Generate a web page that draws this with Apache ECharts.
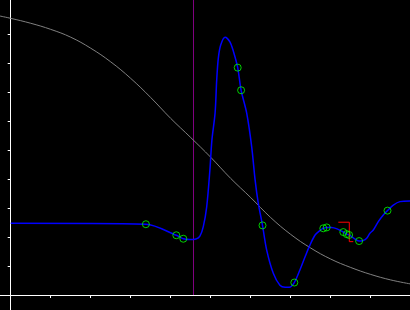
<!DOCTYPE html>
<html>
<head>
<meta charset="utf-8">
<script src="https://cdn.jsdelivr.net/npm/echarts@6/dist/echarts.min.js"></script>
<style>html,body{margin:0;padding:0;background:#000;}#c{width:410px;height:310px;}</style>
</head>
<body>
<div id="c"></div>
<script>
// Grey reference curve
var greyX = [-0.27,0,0.5,1,1.5,2,2.5,3,3.5,4,4.5,5,5.5,6,6.5,7,7.5,8,8.5,9,9.5,10];
var greyY = [9.62,9.54,9.37,9.16,8.89,8.51,8.04,7.47,6.81,6.09,5.43,4.75,4.02,3.36,2.67,2.09,1.62,1.24,0.95,0.71,0.52,0.38];
// Blue interpolated curve
var blueX = [0,3.38,4.14,4.315,4.48,4.63,4.73,4.815,4.90,4.98,5.03,5.11,5.15,5.19,5.25,5.36,5.48,5.57,5.675,5.76,5.90,6.025,6.11,6.19,6.295,6.40,6.565,6.73,6.86,6.965,7.09,7.23,7.36,7.48,7.61,7.73,7.815,7.90,8.025,8.16,8.315,8.40,8.46,8.61,8.71,8.81,8.90,8.98,9.065,9.19,9.315,9.42,9.565,9.73,10];
var blueY = [2.47,2.44,2.06,1.94,1.91,1.93,2.03,2.36,3.04,4.31,5.34,6.28,7.41,8.16,8.62,8.89,8.73,8.39,7.84,7.06,6.27,5.11,3.97,3.16,2.40,1.55,0.75,0.34,0.27,0.27,0.43,0.86,1.32,1.72,2.07,2.22,2.30,2.33,2.33,2.28,2.17,2.10,2.07,1.93,1.86,1.88,1.96,2.13,2.24,2.53,2.76,2.91,3.10,3.22,3.24];
// Green sample points
var ptX = [3.38,4.14,4.315,5.675,5.76,6.295,7.09,7.815,7.90,8.315,8.40,8.46,8.71,9.42];
var ptY = [2.44,2.06,1.94,7.84,7.06,2.40,0.43,2.30,2.33,2.17,2.10,2.07,1.86,2.91];
// Red step marker
var redX = [8.19,8.465,8.465,8.565];
var redY = [2.51,2.51,1.84,1.84];
// Vertical marker position
var vLineX = 4.57;
var tickVals = [1,2,3,4,5,6,7,8,9];

function zip(a,b){return a.map(function(v,i){return [v,b[i]];});}

var chart = echarts.init(document.getElementById('c'));
chart.setOption({
  backgroundColor:'#000',
  animation:false,
  grid:{left:0,right:0,top:0,bottom:0},
  xAxis:{type:'value',min:-0.2675,max:9.9825,
    axisLine:{show:true,onZero:true,lineStyle:{color:'#fff',width:1}},
    axisTick:{show:true,length:3,customValues:tickVals,lineStyle:{color:'#fff'}},
    axisLabel:{show:false,customValues:tickVals},
    splitLine:{show:false}},
  yAxis:{type:'value',min:-0.517,max:10.172,
    axisLine:{show:true,onZero:true,lineStyle:{color:'#fff',width:1}},
    axisTick:{show:true,length:3,customValues:tickVals,lineStyle:{color:'#fff'}},
    axisLabel:{show:false,customValues:tickVals},
    splitLine:{show:false}},
  series:[
    {type:'line',data:zip(greyX,greyY),smooth:0.4,symbol:'none',lineStyle:{color:'#808080',width:1},z:2},
    {type:'line',data:[[vLineX,0],[vLineX,10.172]],symbol:'none',lineStyle:{color:'#800080',width:1},z:1},
    {type:'line',data:zip(blueX,blueY),smooth:0.3,symbol:'none',lineStyle:{color:'#0000ff',width:1.5},z:3},
    {type:'line',data:zip(redX,redY),symbol:'none',lineStyle:{color:'#ff0000',width:1},z:4},
    {type:'scatter',data:zip(ptX,ptY),symbol:'circle',symbolSize:7,itemStyle:{color:'transparent',borderColor:'#00ff00',borderWidth:1},z:5}
  ]
});
</script>
</body>
</html>
